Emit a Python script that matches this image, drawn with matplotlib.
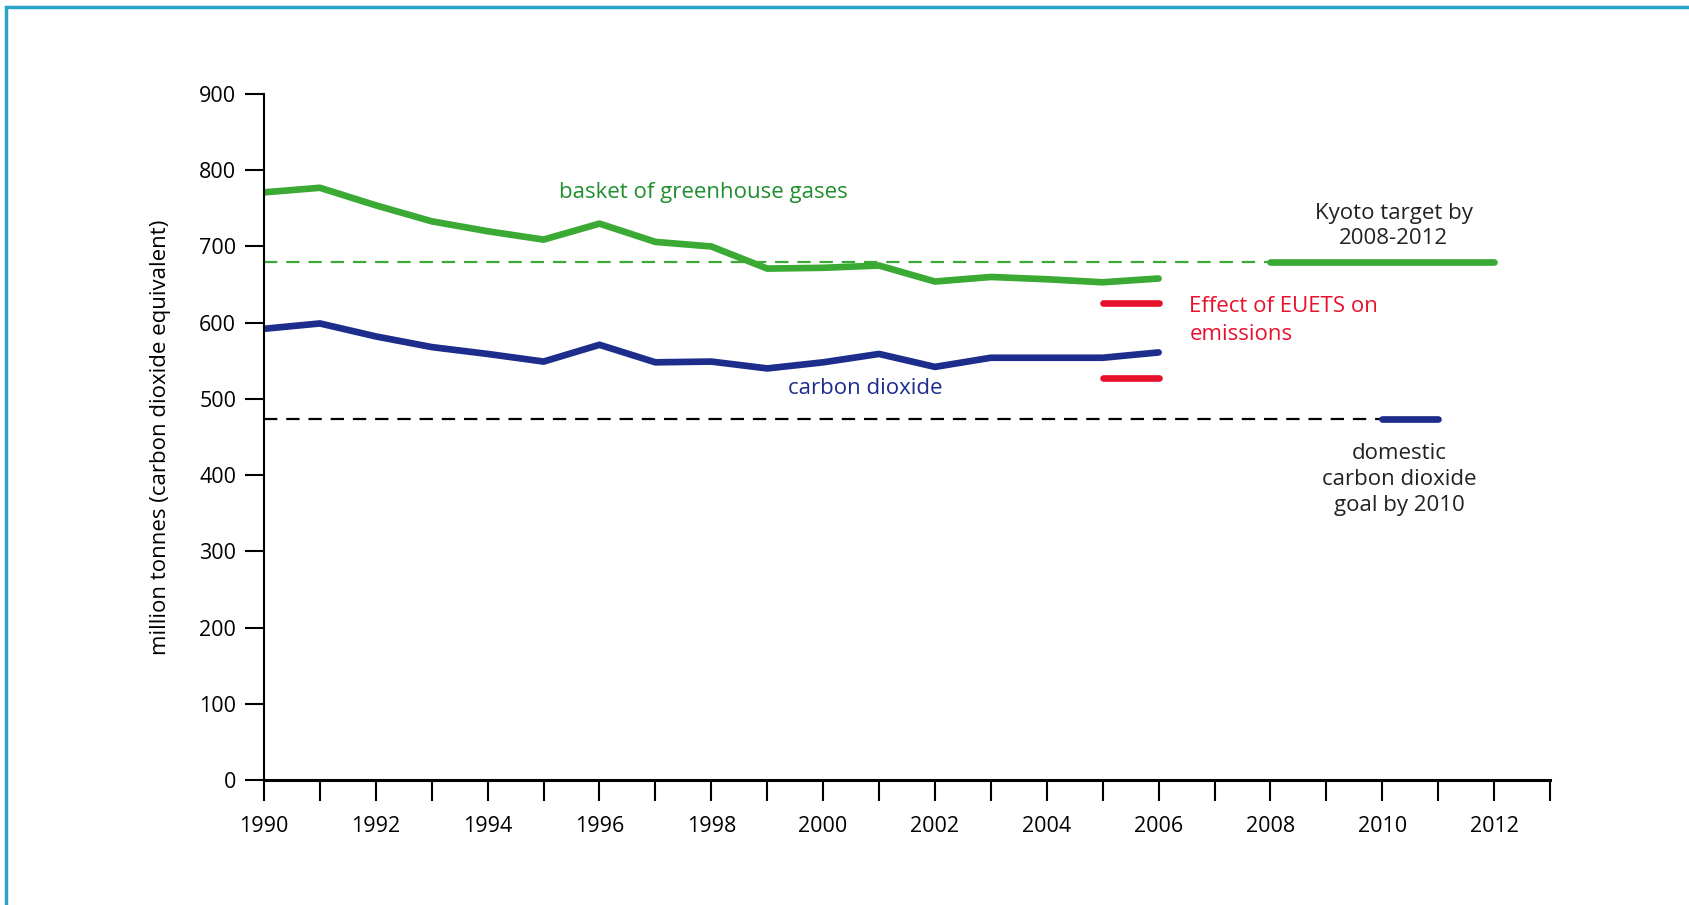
import numpy as np
import matplotlib.pyplot as plt
from matplotlib.patches import Rectangle

plt.rcParams['font.family'] = ['Open Sans', 'DejaVu Sans']

# dati
anni = [1990, 1991, 1992, 1993, 1994, 1995, 1996, 1997, 1998,
        1999, 2000, 2001, 2002, 2003, 2004, 2005, 2006]
gas_serra = [771, 777, 754, 733, 720, 709, 730, 706, 700,
             671, 672, 675, 654, 660, 657, 653, 658]
co2 = [592, 599, 582, 568, 559, 549, 571, 548, 549,
       540, 548, 559, 542, 554, 554, 554, 561]

kyoto = 679          # obiettivo Kyoto 2008-2012
kyoto_anni = [2008, 2012]
goal_co2 = 473       # obiettivo nazionale CO2 al 2010
goal_anni = [2010, 2011]
euets = [626, 527]   # effetto EUETS
euets_anni = [2005, 2006]

verde = '#3aaa35'
verde_testo = '#1f8f2c'
blu = '#1d2d8c'
rosso = '#e8112d'

fig = plt.figure(figsize=(16.89, 9.05), dpi=100)
ax = fig.add_axes([0.1563, 0.1381, 0.7614, 0.758])

# cornice azzurra (solo bordo alto e sinistro visibili)
fig.patches.append(Rectangle((6 / 1689, -0.1), 1.2, 1.1 - 7 / 905,
                             transform=fig.transFigure, fill=False,
                             edgecolor='#2ba3c6', linewidth=2.5))

# linee tratteggiate di riferimento
ax.plot([1990, kyoto_anni[0]], [kyoto, kyoto], color=verde, lw=1.6, dashes=(6, 4))
ax.plot([1990, goal_anni[0]], [goal_co2, goal_co2], color='black', lw=1.6, dashes=(6, 4))

ax.plot(anni, gas_serra, color=verde, lw=4.8, solid_capstyle='round', solid_joinstyle='round')
ax.plot(anni, co2, color=blu, lw=4.8, solid_capstyle='round', solid_joinstyle='round')

ax.plot(kyoto_anni, [kyoto, kyoto], color=verde, lw=4.8, solid_capstyle='round')
ax.plot(goal_anni, [goal_co2, goal_co2], color=blu, lw=4.8, solid_capstyle='round')
for v in euets:
    ax.plot(euets_anni, [v, v], color=rosso, lw=4.8, solid_capstyle='round')

# etichette
fs = 16
ax.text(1997.85, 771, 'basket of greenhouse gases', color=verde_testo, fontsize=fs,
        ha='center', va='center')
ax.text(2000.75, 514, 'carbon dioxide', color=blu, fontsize=fs, ha='center', va='center')
ax.text(2010.2, 727, 'Kyoto target by\n2008-2012', color='#222222', fontsize=fs,
        ha='center', va='center', linespacing=1.25)
ax.text(2006.55, 603, 'Effect of EUETS on\nemissions', color=rosso, fontsize=fs,
        ha='left', va='center', linespacing=1.4)
ax.text(2010.3, 394, 'domestic\ncarbon dioxide\ngoal by 2010', color='#222222', fontsize=fs,
        ha='center', va='center', linespacing=1.3)

ax.set_xlim(1990, 2013)
ax.set_ylim(0, 900)
ax.set_xticks(np.arange(1990, 2014, 1))
ax.set_xticklabels([str(a) if a % 2 == 0 and a < 2013 else '' for a in range(1990, 2014)])
ax.set_yticks(np.arange(0, 901, 100))

ax.spines['top'].set_visible(False)
ax.spines['right'].set_visible(False)
ax.spines['bottom'].set_linewidth(2.2)
ax.spines['left'].set_linewidth(1.5)
ax.tick_params(axis='x', direction='out', length=15, width=1.5, pad=11, labelsize=15.5)
ax.tick_params(axis='y', direction='out', length=14, width=1.5, pad=6, labelsize=15.5)

ax.set_ylabel('million tonnes (carbon dioxide equivalent)', fontsize=16, labelpad=20)
ax.patch.set_alpha(0)

plt.savefig('out.png', dpi=100)
